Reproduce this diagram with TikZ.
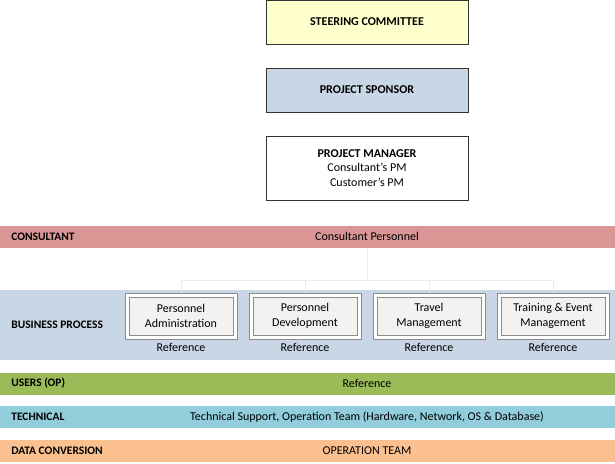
\documentclass[tikz,border=0pt]{standalone}
\usepackage{fontspec}
\setmainfont{Carlito}
\usetikzlibrary{positioning}
\definecolor{steerfill}{HTML}{FFFFCC}
\definecolor{sponsorfill}{HTML}{C9D6E6}
\definecolor{consultfill}{HTML}{D99694}
\definecolor{bpfill}{HTML}{C8D6E5}
\definecolor{usersfill}{HTML}{9BBB59}
\definecolor{techfill}{HTML}{92CDDC}
\definecolor{datafill}{HTML}{FAC090}
\definecolor{boxfill}{HTML}{F2F2F2}
\tikzset{
  topbox/.style={draw=black!80, minimum width=202pt, align=center, font=\fontsize{12}{14.5}\selectfont},
  bar/.style={minimum width=615pt, minimum height=22pt, inner sep=0pt},
  barlabel/.style={anchor=west, font=\bfseries\fontsize{11.5}{13}\selectfont},
  bartext/.style={font=\fontsize{12}{14}\selectfont},
  outerbox/.style={draw=black!45, fill=white, minimum width=112pt, minimum height=46pt},
  innerbox/.style={draw=black!45, fill=boxfill, minimum width=104pt, minimum height=38pt, align=center, font=\fontsize{12}{14.5}\selectfont},
  link/.style={draw=white!92!black, line width=0.6pt}
}
\begin{document}
\begin{tikzpicture}[x=1pt,y=-1pt]
  \useasboundingbox (0,0) rectangle (615,463);
  % top of the hierarchy
  \node[topbox, fill=steerfill, minimum height=44pt] (steer) at (367,22) {\textbf{STEERING COMMITTEE}};
  \node[topbox, fill=sponsorfill, minimum height=44pt] (sponsor) at (367,90) {\textbf{PROJECT SPONSOR}};
  \node[topbox, fill=white, minimum height=64pt] (manager) at (367,168) {\textbf{PROJECT MANAGER}\\Consultant’s PM\\Customer’s PM};
  % bars
  \node[bar, fill=consultfill] (consult) at (307.5,236.5) {};
  \node[barlabel] at (consult.west) {\hspace{8pt}CONSULTANT};
  \node[bartext] at (367,236.5) {Consultant Personnel};
  \node[bar, fill=bpfill, minimum height=70pt] (bp) at (307.5,325) {};
  \node[barlabel] at (bp.west) {\hspace{8pt}BUSINESS PROCESS};
  \node[bar, fill=usersfill] (users) at (307.5,383.5) {};
  \node[barlabel] at (users.west) {\hspace{8pt}USERS (OP)};
  \node[bartext] at (367,383.5) {Reference};
  \node[bar, fill=techfill] (tech) at (307.5,417) {};
  \node[barlabel] at (tech.west) {\hspace{8pt}TECHNICAL};
  \node[bartext] at (367,417) {Technical Support, Operation Team (Hardware, Network, OS \& Database)};
  \node[bar, fill=datafill] (data) at (307.5,451) {};
  \node[barlabel] at (data.west) {\hspace{8pt}DATA CONVERSION};
  \node[bartext] at (367,451) {OPERATION TEAM};
  % business process boxes
  \coordinate (hub) at (367,280);
  \foreach \i/\x/\txt in {pa/181/{Personnel\\Administration}, pd/305/{Personnel\\Development}, tm/429/{Travel\\Management}, te/553/{Training \& Event\\Management}} {
    \node[outerbox] (\i) at (\x,316) {};
    \node[innerbox] at (\i) {\txt};
    \node[bartext, below=1pt of \i] {Reference};
    \draw[link] (\i.north) |- (hub);
  }
  \draw[link] (consult.south -| hub) -- (hub);
\end{tikzpicture}
\end{document}
